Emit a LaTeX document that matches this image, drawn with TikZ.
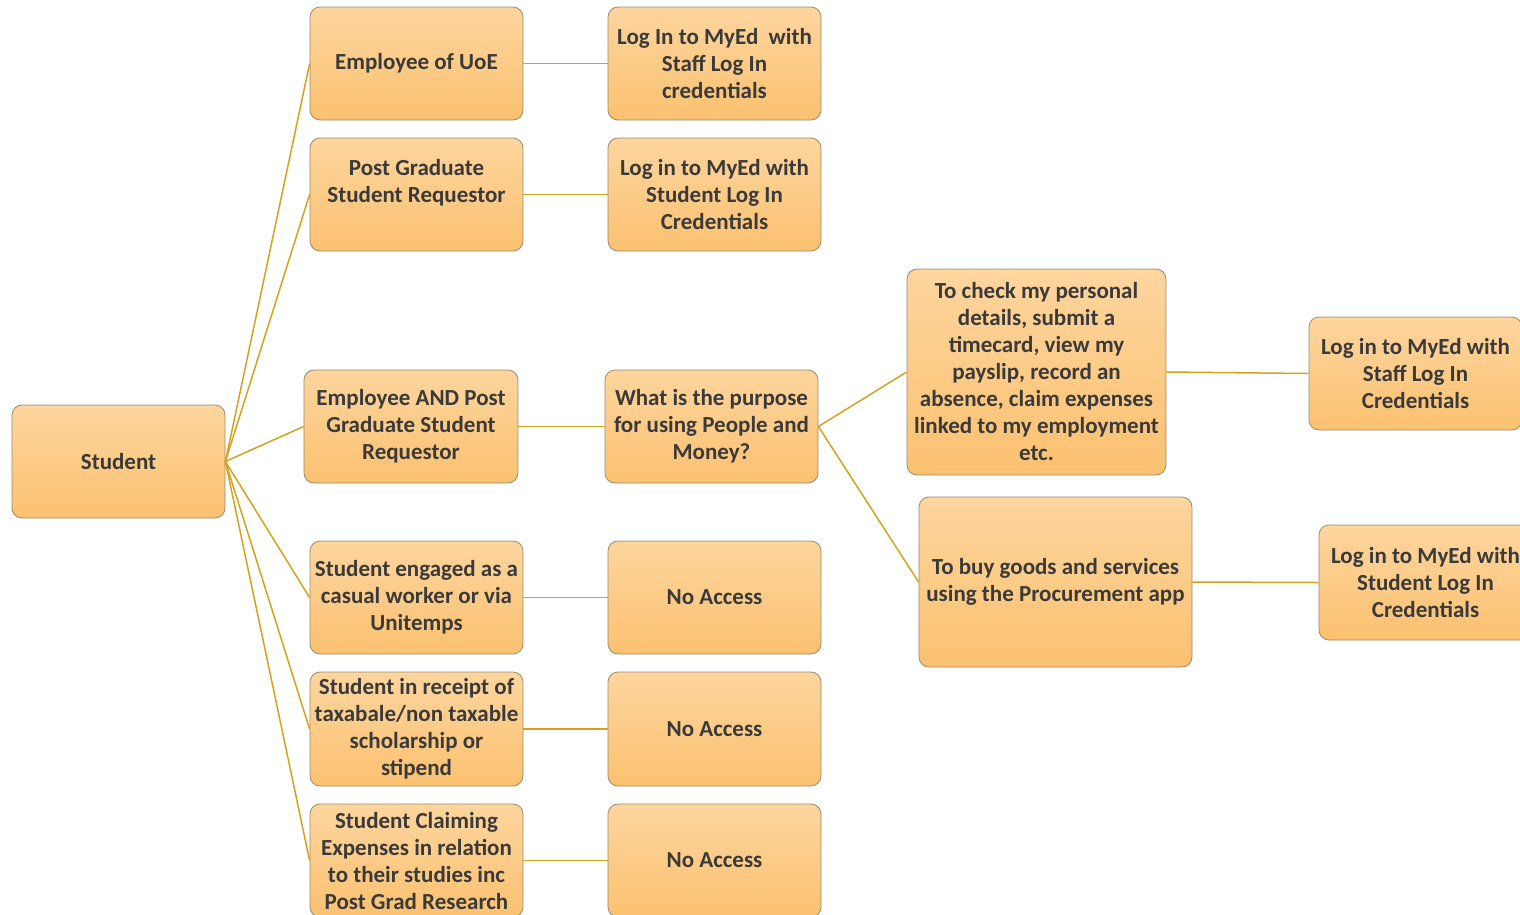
\documentclass[tikz,border=0pt]{standalone}
\usepackage{fontspec}
\setmainfont{Carlito}
\definecolor{txt}{HTML}{3A3A3A}
\definecolor{edge}{HTML}{9A8A6E}
\definecolor{ftop}{HTML}{FDD59E}
\definecolor{fbot}{HTML}{FBC170}
\definecolor{link}{HTML}{D6A21E}
\tikzset{
  box/.style={draw=edge, line width=0.8pt, rounded corners=10pt, top color=ftop, bottom color=fbot,
    align=center, text=txt, font=\fontsize{23}{27}\selectfont\bfseries, inner sep=1pt},
  wire/.style={draw=link, line width=1.5pt}
}
\begin{document}
\begin{tikzpicture}[x=1pt,y=-1pt]
\useasboundingbox (0,0) rectangle (1520,914);
\clip (0,0) rectangle (1520,914);
\node[box, minimum width=213pt, minimum height=113pt] (stu) at (118.5,461.5) {Student};
\node[box, minimum width=213pt, minimum height=113pt] (emp) at (416.5,63.5) {Employee of UoE};
\node[box, minimum width=213pt, minimum height=113pt] (pg) at (416.5,194.5) {Post Graduate\\Student Requestor\\\rule{0pt}{0pt}};
\node[box, minimum width=214pt, minimum height=113pt] (both) at (411,426.5) {Employee AND Post\\Graduate Student\\Requestor};
\node[box, minimum width=213pt, minimum height=113pt] (cas) at (416.5,597.5) {Student engaged as a\\casual worker or via\\Unitemps};
\node[box, minimum width=213pt, minimum height=114pt] (sch) at (416.5,729) {Student in receipt of\\taxabale/non taxable\\scholarship or\\stipend};
\node[box, minimum width=213pt, minimum height=113pt] (clm) at (416.5,860.5) {Student Claiming\\Expenses in relation\\to their studies inc\\Post Grad Research};
\node[box, minimum width=213pt, minimum height=113pt] (staff1) at (714.5,63.5) {Log In to MyEd\ \ with\\Staff Log In\\credentials};
\node[box, minimum width=213pt, minimum height=113pt] (stud1) at (714.5,194.5) {Log in to MyEd with\\Student Log In\\Credentials};
\node[box, minimum width=213pt, minimum height=113pt] (purp) at (711.5,426.5) {What is the purpose\\for using People and\\Money?};
\node[box, minimum width=213pt, minimum height=113pt] (na1) at (714.5,597.5) {No Access};
\node[box, minimum width=213pt, minimum height=114pt] (na2) at (714.5,729) {No Access};
\node[box, minimum width=213pt, minimum height=113pt] (na3) at (714.5,860.5) {No Access};
\node[box, minimum width=259pt, minimum height=206pt] (chk) at (1036.5,372) {To check my personal\\details, submit a\\timecard, view my\\payslip, record an\\absence, claim expenses\\linked to my employment\\etc.};
\node[box, minimum width=273pt, minimum height=170pt] (buy) at (1055.5,582) {To buy goods and services\\using the Procurement app};
\node[box, minimum width=213pt, minimum height=113pt] (staff2) at (1415.5,373.5) {Log in to MyEd with\\Staff Log In\\Credentials};
\node[box, minimum width=213pt, minimum height=115pt] (stud2) at (1425.5,582.5) {Log in to MyEd with\\Student Log In\\Credentials};
\foreach \t in {emp,pg,both,cas,sch,clm}{\draw[wire] (stu.east) -- (\t.west);}
\draw[wire] (emp) -- (staff1);
\draw[wire] (pg) -- (stud1);
\draw[wire] (both) -- (purp);
\draw[wire] (cas) -- (na1);
\draw[wire] (sch) -- (na2);
\draw[wire] (clm) -- (na3);
\draw[wire] (purp.east) -- (chk.west);
\draw[wire] (purp.east) -- (buy.west);
\draw[wire] (chk.east) -- (staff2.west);
\draw[wire] (buy.east) -- (stud2.west);
\end{tikzpicture}
\end{document}
